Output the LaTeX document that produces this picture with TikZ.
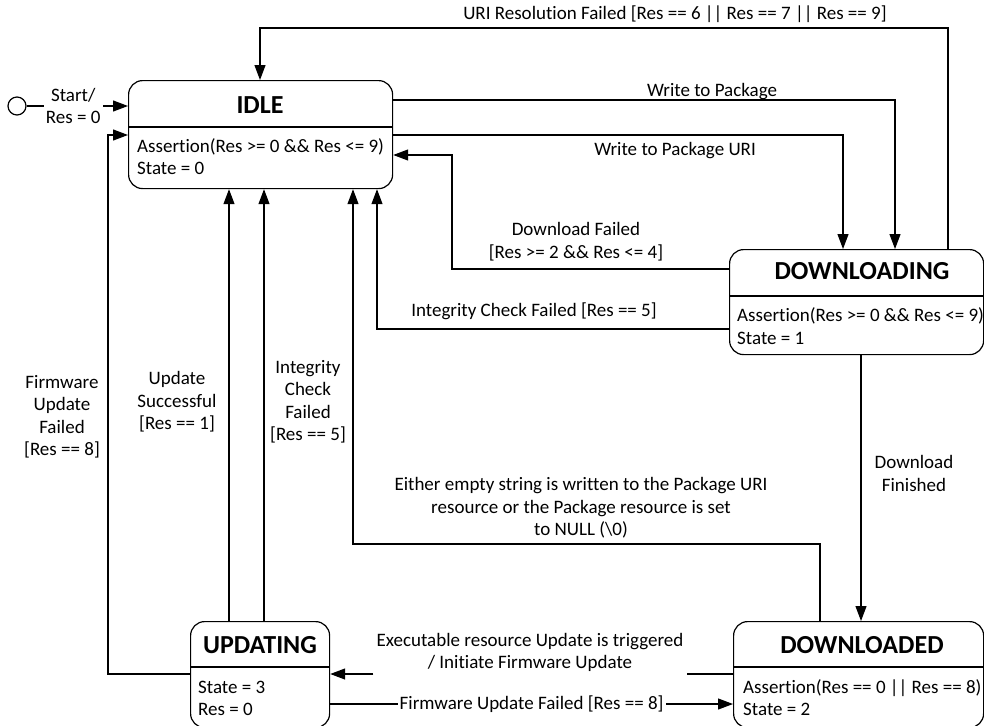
\documentclass[tikz,border=0pt]{standalone}
\usepackage{fontspec}
\setmainfont{Carlito}[RawFeature={-liga;-dlig;-clig;-calt}]
\usetikzlibrary{arrows.meta}
\begin{document}
\begin{tikzpicture}[x=1pt,y=-1pt,
  every node/.style={font=\fontsize{19}{22.5}\selectfont},
  statebox/.style={draw, line width=1.2pt, rounded corners=14pt, anchor=north west, inner sep=0pt},
  titletext/.style={font=\fontsize{26}{30}\selectfont\bfseries, anchor=base, inner sep=0pt},
  bodytext/.style={anchor=base west, inner sep=0pt},
  lbl/.style={align=center, inner sep=1pt},
  wlbl/.style={align=center, fill=white, inner sep=2pt},
  conn/.style={line width=1.2pt, -{Triangle[length=15pt,width=11pt]}},
  plain/.style={line width=1.2pt}]
\useasboundingbox (0,0) rectangle (984,725);
\clip (0,0) rectangle (984,725);
\fill[white] (0,0) rectangle (984,725);

% state boxes
\node[statebox, minimum width=264pt, minimum height=108pt] (idle) at (128,80) {};
\node[statebox, minimum width=254pt, minimum height=105pt] (dling) at (729,249) {};
\node[statebox, minimum width=139pt, minimum height=106pt] (upd) at (190,621) {};
\node[statebox, minimum width=250pt, minimum height=106pt] (dled) at (733,621) {};

% dividers
\draw[plain] (idle.west |- 0,127) -- (idle.east |- 0,127);
\draw[plain] (dling.west |- 0,296) -- (dling.east |- 0,296);
\draw[plain] (upd.west |- 0,667) -- (upd.east |- 0,667);
\draw[plain] (dled.west |- 0,667) -- (dled.east |- 0,667);

% titles
\node[titletext] (t1) at (260,113) {IDLE};
\node[titletext] (t2) at (862,279) {DOWNLOADING};
\node[titletext] (t3) at (260,653) {UPDATING};
\node[titletext] (t4) at (862,653) {DOWNLOADED};

% bodies
\node[bodytext] (b1a) at (137,152) {Assertion(Res >= 0 \&\& Res <= 9)};
\node[bodytext] (b1b) at (137,174) {State = 0};
\node[bodytext] (b2a) at (737,321) {Assertion(Res >= 0 \&\& Res <= 9)};
\node[bodytext] (b2b) at (737,344) {State = 1};
\node[bodytext] (b3a) at (198,693) {State = 3};
\node[bodytext] (b3b) at (198,715) {Res = 0};
\node[bodytext] (b4a) at (743,693) {Assertion(Res == 0 || Res == 8)};
\node[bodytext] (b4b) at (743,715) {State = 2};

% start
\node[draw, circle, minimum size=18pt, inner sep=0pt, line width=1.2pt] (start) at (17,106) {};
\draw[conn] (start) -- node[wlbl, pos=0.46] (startlbl) {Start/\\Res = 0} (idle.west |- 0,106);

% URI resolution failed
\draw[conn] (dling.north -| 948,0) -- (948,28) -| (idle.north -| 260,0);
\node[lbl] (l1) at (675,14) {URI Resolution Failed [Res == 6 || Res == 7 || Res == 9]};

% write to package
\draw[conn] (idle.east |- 0,100) -| (dling.north -| 895,0);
\node[lbl] (l2) at (712,92) {Write to Package};

% write to package URI
\draw[conn] (idle.east |- 0,135) -| (dling.north -| 843,0);
\node[lbl] (l3) at (675,151) {Write to Package URI};

% download failed
\draw[conn] (dling.west |- 0,269) -| (452,155) -- (idle.east |- 0,155);
\node[lbl] (l4) at (576,241.5) {Download Failed\\{}[Res >= 2 \&\& Res <= 4]};

% integrity check failed (downloading)
\draw[conn] (dling.west |- 0,329) -| (idle.south -| 377,0);
\node[lbl] (l5) at (534,311) {Integrity Check Failed [Res == 5]};

% download finished
\draw[conn] (dling.south -| 861,0) -- (dled.north -| 861,0);
\node[lbl] (l6) at (914,473.5) {Download\\Finished};

% either empty string
\draw[conn] (dled.north -| 820,0) |- (353,544) -- (idle.south -| 353,0);
\node[lbl] (l7) at (581,508) {Either empty string is written to the Package URI\\resource or the Package resource is set\\to NULL (\textbackslash 0)};

% update successful
\draw[conn] (upd.north -| 229,0) -- (idle.south -| 229,0);
\node[lbl] (l8) at (177,402) {Update\\Successful\\{}[Res == 1]};

% integrity check failed (updating)
\draw[conn] (upd.north -| 264,0) -- (idle.south -| 264,0);
\node[lbl] (l9) at (308,402) {Integrity\\Check\\Failed\\{}[Res == 5]};

% firmware update failed (left)
\draw[conn] (upd.west |- 0,674) -| (108,135) -- (idle.west |- 0,135);
\node[lbl] (l10) at (62,417) {Firmware\\Update\\Failed\\{}[Res == 8]};

% executable resource update
\node[lbl, inner xsep=3pt] (l11) at (530,652.5) {Executable resource Update is triggered\\/ Initiate Firmware Update};
\draw[plain] (dled.west |- 0,674) -- (l11.east |- 0,674);
\draw[conn] (l11.west |- 0,674) -- (upd.east |- 0,674);

% firmware update failed (bottom)
\draw[conn] (upd.east |- 0,704) -- node[wlbl, pos=0.5] (l12) {Firmware Update Failed [Res == 8]} (dled.west |- 0,704);
\end{tikzpicture}
\end{document}
